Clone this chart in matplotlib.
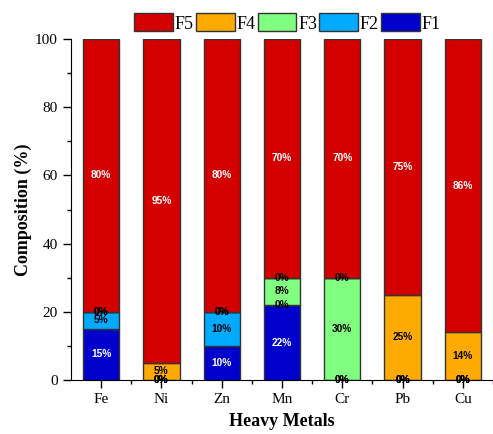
import matplotlib
matplotlib.use("Agg")
import matplotlib.pyplot as plt
import numpy as np
from matplotlib.ticker import MultipleLocator
from matplotlib.patches import Patch

metals = ["Fe", "Ni", "Zn", "Mn", "Cr", "Pb", "Cu"]
f1 = [15, 0, 10, 22, 0, 0, 0]
f2 = [5, 0, 10, 0, 0, 0, 0]
f3 = [0, 0, 0, 8, 30, 0, 0]
f4 = [0, 5, 0, 0, 0, 25, 14]
f5 = [80, 95, 80, 70, 70, 75, 86]

fractions = ["F1", "F2", "F3", "F4", "F5"]
series = [f1, f2, f3, f4, f5]
colors = ["#0000cc", "#00aaff", "#80ff80", "#ffaa00", "#d40000"]
label_colors = ["white", "black", "black", "black", "white"]

serif = ["Liberation Serif", "DejaVu Serif"]
sans = ["Liberation Sans", "DejaVu Sans"]

fig = plt.figure(figsize=(4.93, 4.34), dpi=100)
ax = fig.add_axes([0.144, 0.1244, 0.856, 0.7857])

x = np.arange(len(metals))
bottom = np.zeros(len(metals))
for name, vals, col, lc in zip(fractions, series, colors, label_colors):
    vals = np.array(vals, dtype=float)
    ax.bar(x, vals, width=0.6, bottom=bottom, color=col,
           edgecolor="#333333", linewidth=1.0, label=name, zorder=2)
    for xi, b, v in zip(x, bottom, vals):
        ax.text(xi, b + v / 2, f"{int(v)}%", ha="center", va="center",
                fontsize=7.3, fontweight="bold", family=sans,
                color=lc if v > 0 else "black", zorder=3)
    bottom += vals

ax.set_xlim(-0.5, 6.47)
ax.set_ylim(0, 100)
ax.set_xticks(x)
ax.set_xticklabels(metals, family=serif, fontsize=11)
ax.set_xticks(x + 0.5, minor=True)
ax.yaxis.set_major_locator(MultipleLocator(20))
ax.yaxis.set_minor_locator(MultipleLocator(10))
for lab in ax.get_yticklabels():
    lab.set_family(serif)
    lab.set_fontsize(11)
ax.tick_params(which="major", direction="out", length=6, width=1)
ax.tick_params(which="minor", direction="out", length=3, width=1)

ax.spines["top"].set_visible(False)
ax.spines["right"].set_visible(False)

ax.set_ylabel("Composition (%)", family=serif, fontsize=13, fontweight="bold", labelpad=2)
ax.set_xlabel("Heavy Metals", family=serif, fontsize=13, fontweight="bold", labelpad=5)

handles = [Patch(facecolor=c, edgecolor="#333333", linewidth=1.0)
           for c in colors[::-1]]
fig.legend(handles, fractions[::-1], loc="center", bbox_to_anchor=(0.583, 0.947),
           ncol=5, frameon=False, prop={"family": serif, "size": 13},
           handlelength=2.15, handleheight=1.15, handletextpad=0.1,
           columnspacing=0.12, borderaxespad=0)

fig.savefig("out.png", dpi=100)
